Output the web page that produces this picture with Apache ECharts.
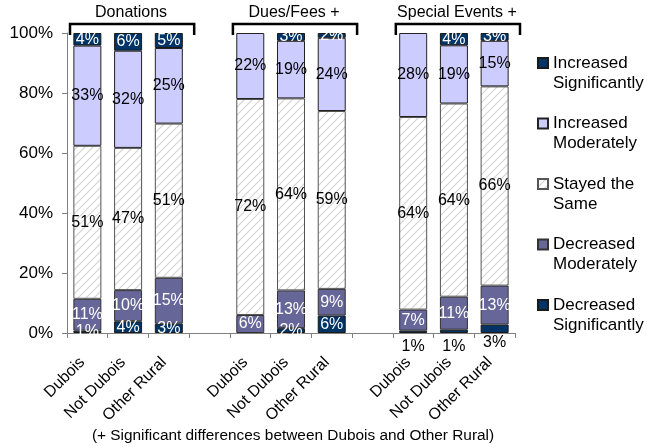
<!DOCTYPE html>
<html>
<head>
<meta charset="utf-8">
<script src="https://cdn.jsdelivr.net/npm/echarts@6/dist/echarts.min.js"></script>
<style>
  html, body { margin: 0; padding: 0; background: #fff; }
  #chart { width: 647px; height: 447px; }
</style>
</head>
<body>
<div id="chart"></div>
<script>
// Survey responses: change in funding sources by region (percent of respondents)
const categories = ['Dubois', 'Not Dubois', 'Other Rural', '',
                    'Dubois', 'Not Dubois', 'Other Rural', '',
                    'Dubois', 'Not Dubois', 'Other Rural'];
const groupTitles = ['Donations', 'Dues/Fees +', 'Special Events +'];
const groupStarts = [0, 4, 8];
const groupSize = 3;

const decreasedSignificantly = [0.8, 3.9, 3.1, null, 0, 1.6, 5.8, null, 0.8, 1.1, 2.8];
const decreasedModerately    = [10.6, 10.4, 15.3, null, 6.0, 12.6, 8.9, null, 7.0, 11.0, 13.0];
const stayedTheSame          = [51.0, 47.4, 51.4, null, 72.0, 64.0, 59.3, null, 64.2, 64.4, 66.4];
const increasedModerately    = [33.4, 32.4, 25.2, null, 22.0, 19.2, 24.4, null, 28.0, 19.4, 15.2];
const increasedSignificantly = [4.2, 5.9, 5.0, null, 0, 2.6, 1.6, null, 0, 4.1, 2.6];

const yTicks = [0, 20, 40, 60, 80, 100];
const footnote = '(+ Significant differences between Dubois and Other Rural)';

const FONT = '"Liberation Sans", Arial, sans-serif';

// light grey diagonal hatch for the "stayed the same" segments
function makeHatch() {
  const s = 8;
  const c = document.createElement('canvas');
  c.width = s; c.height = s;
  const g = c.getContext('2d');
  g.fillStyle = '#ffffff';
  g.fillRect(0, 0, s, s);
  g.strokeStyle = '#d4d4d4';
  g.lineWidth = 1.2;
  g.beginPath();
  g.moveTo(0, s); g.lineTo(s, 0);
  g.moveTo(-s / 2, s / 2); g.lineTo(s / 2, -s / 2);
  g.moveTo(s / 2, s * 1.5); g.lineTo(s * 1.5, s / 2);
  g.stroke();
  return c;
}
const hatch = { image: makeHatch(), repeat: 'repeat' };

// labels of these dark bottom segments sit under the axis (offset in px)
const labelBelowAxis = { 8: 6, 9: 6, 10: 2 };

function buildData(values, seriesKey) {
  return values.map((v, i) => {
    if (v === null || v === 0) return '-';
    const item = { value: v };
    if (seriesKey === 'decSig' && labelBelowAxis[i] !== undefined) {
      item.label = { position: 'bottom', distance: labelBelowAxis[i], color: '#000' };
    }
    return item;
  });
}

function pctLabel(p) {
  if (p.value === 0 || p.value === '-' || p.value == null) return '';
  return Math.round(p.value) + '%';
}

function makeSeries(name, values, key, color, labelColor, border) {
  return {
    name: name,
    type: 'bar',
    stack: 'total',
    barWidth: 28,
    data: buildData(values, key),
    itemStyle: { color: color, borderColor: border, borderWidth: 1 },
    label: {
      show: true,
      position: 'inside',
      formatter: pctLabel,
      color: labelColor,
      fontSize: 16,
      fontFamily: FONT
    },
    emphasis: { disabled: true }
  };
}

const series = [
  makeSeries('Decreased\nSignificantly', decreasedSignificantly, 'decSig', '#003366', '#ffffff', '#1a1a1a'),
  makeSeries('Decreased\nModerately', decreasedModerately, 'decMod', '#666699', '#ffffff', '#333333'),
  makeSeries('Stayed the\nSame', stayedTheSame, 'stayed', hatch, '#000000', '#555555'),
  makeSeries('Increased\nModerately', increasedModerately, 'incMod', '#ccccff', '#000000', '#222222'),
  makeSeries('Increased\nSignificantly', increasedSignificantly, 'incSig', '#003366', '#ffffff', '#1a1a1a')
];

const chart = echarts.init(document.getElementById('chart'), null, { renderer: 'canvas' });

const option = {
  animation: false,
  textStyle: { fontFamily: FONT },
  grid: { left: 67, right: 132, top: 33, bottom: 114, containLabel: false, outerBoundsMode: 'none' },
  legend: {
    orient: 'vertical',
    left: 537,
    top: 33,
    padding: 0,
    icon: 'rect',
    itemWidth: 10,
    itemHeight: 10,
    itemGap: 0.5,
    selectedMode: false,
    data: series.map(s => s.name).reverse(),
    // blank first line keeps the swatch level with the first text line
    formatter: name => '\n' + name,
    textStyle: { fontSize: 17, lineHeight: 20, color: '#000', fontFamily: FONT }
  },
  xAxis: {
    type: 'category',
    data: categories,
    axisLine: { lineStyle: { color: '#808080', width: 1 } },
    axisTick: { show: true, interval: 0, length: 5, lineStyle: { color: '#808080' } },
    axisLabel: {
      interval: 0, rotate: 45, fontSize: 16, color: '#000', margin: 22,
      padding: [0, 7, 0, 0],
      fontFamily: FONT, hideOverlap: false
    }
  },
  yAxis: {
    type: 'value',
    min: yTicks[0],
    max: yTicks[yTicks.length - 1],
    interval: yTicks[1] - yTicks[0],
    axisLine: { show: true, lineStyle: { color: '#808080', width: 1 } },
    axisTick: { show: true, length: 5, lineStyle: { color: '#808080' } },
    splitLine: { show: false },
    axisLabel: { formatter: '{value}%', fontSize: 17, color: '#000', margin: 14, fontFamily: FONT }
  },
  series: series
};

chart.setOption(option);

// group brackets, group titles and footnote placed from the axis scales
function addAnnotations() {
  const px = i => chart.convertToPixel({ xAxisIndex: 0 }, i);
  const py = v => chart.convertToPixel({ yAxisIndex: 0 }, v);
  const bandW = px(1) - px(0);
  const yTop = py(100);
  const elements = [];
  groupStarts.forEach((start, g) => {
    const left = px(start) - bandW / 2 + 3;
    const right = px(start + groupSize - 1) + bandW / 2 + 5;
    elements.push({
      type: 'polyline',
      shape: { points: [[left, yTop + 2], [left, yTop - 9], [right, yTop - 9], [right, yTop + 2]] },
      style: { stroke: '#000', lineWidth: 2.5, fill: null },
      silent: true
    });
    elements.push({
      type: 'text',
      x: (left + right) / 2 - 1,
      y: yTop - 20,
      style: {
        text: groupTitles[g], fontSize: 16, fontFamily: FONT, fill: '#000',
        align: 'center', verticalAlign: 'middle'
      },
      silent: true
    });
  });
  const gridLeft = px(0) - bandW / 2;
  const gridRight = px(categories.length - 1) + bandW / 2;
  elements.push({
    type: 'text',
    x: (gridLeft + gridRight) / 2 + 2,
    y: 435.5,
    style: {
      text: footnote, fontSize: 15.4, fontFamily: FONT, fill: '#000',
      align: 'center', verticalAlign: 'middle'
    },
    silent: true
  });
  chart.setOption({ graphic: { elements: elements } });
}
addAnnotations();
</script>
</body>
</html>
